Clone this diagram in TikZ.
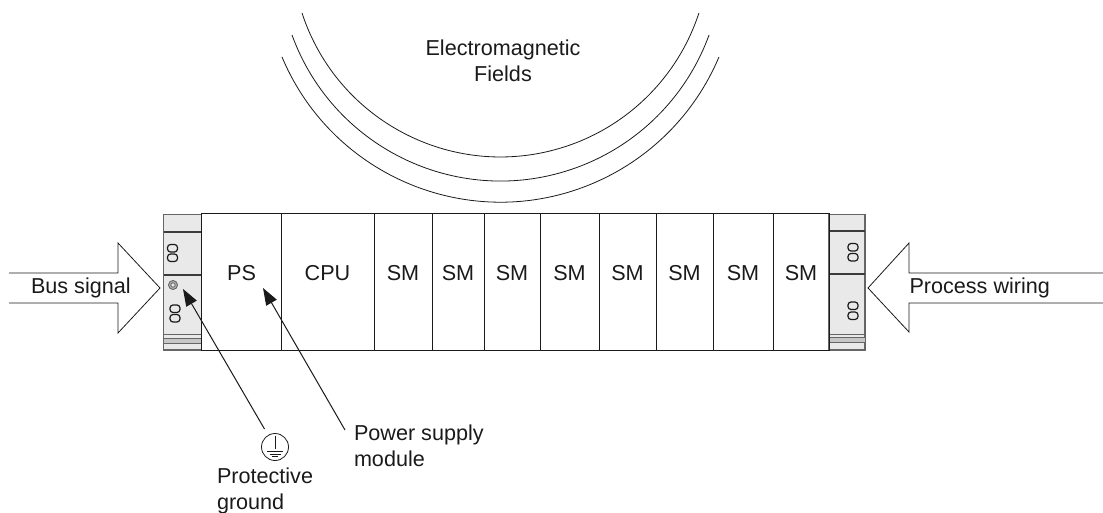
\documentclass[tikz,border=0pt]{standalone}
\usepackage{fontspec}
\setmainfont{Liberation Sans}
\usetikzlibrary{arrows.meta}
\definecolor{railfill}{HTML}{E9E9E9}
\definecolor{railedge}{HTML}{666666}
\definecolor{ink}{HTML}{1A1A1A}
\tikzset{
  lbl/.style={font=\fontsize{21.6}{26}\selectfont,text=ink,inner sep=0pt,outer sep=0pt},
  modbox/.style={draw=ink,line width=1pt,rectangle,inner sep=0pt,outer sep=0pt,minimum height=136pt,
    font=\fontsize{21.6}{26}\selectfont,text=ink,text height=15pt,text depth=19pt},
  rail/.style={draw=railedge,fill=railfill,line width=1.1pt},
  railline/.style={draw=ink!85,line width=1.2pt},
  stripe/.style={draw=railedge,line width=1pt},
  slot/.style={draw=ink,line width=1.2pt,rounded corners=3pt},
  fieldarc/.style={draw=ink,line width=0.8pt},
  blockarrow/.style={draw=ink,line width=0.8pt},
  leader/.style={draw=ink,line width=1pt,-{Triangle[length=17pt,width=12pt]}},
  gnd/.style={draw=ink,line width=0.8pt}
}
\newcommand{\slotpair}[3]{% x-left, y-top, y-bottom of pair
  \draw[slot] (#1,#2) rectangle ++(10,7.5);
  \draw[slot] (#1,#3) rectangle ++(10,-7.5);
}
\begin{document}
\begin{tikzpicture}[x=1pt,y=-1pt]
\useasboundingbox (0,0) rectangle (1103,513);
% left rail
\draw[rail] (163.5,214.5) rectangle (201.5,350);
\draw[railline] (163.5,232) -- (201.5,232);
\draw[railline] (163.5,275) -- (201.5,275);
\fill[black!22] (163.5,338) rectangle (201.5,343);
\draw[stripe] (163.5,334) -- (201.5,334);
\draw[stripe] (163.5,338) -- (201.5,338);
\draw[stripe] (163.5,343) -- (201.5,343);
\slotpair{167.5}{244.5}{261.5}
\slotpair{170}{305}{322}
\draw[draw=railedge,line width=0.9pt,fill=black!30] (173,285) circle (4.5);
\draw[draw=railedge,line width=0.8pt,fill=railfill] (173,285) circle (2.2);
% right rail
\draw[rail] (829,214.5) rectangle (865,350);
\draw[railline] (829,231) -- (865,231);
\draw[railline] (829,274) -- (865,274);
\fill[black!22] (829,337) rectangle (865,342);
\draw[stripe] (829,334) -- (865,334);
\draw[stripe] (829,337) -- (865,337);
\draw[stripe] (829,342) -- (865,342);
\slotpair{848}{243.5}{261}
\slotpair{848}{302}{319.5}
% modules
\node[modbox,minimum width=79.5pt] (ps) at (241.5,282) {PS};
\node[modbox,minimum width=93pt] (cpu) at (327.5,282) {CPU};
\node[modbox,minimum width=58pt] (sm1) at (403,282) {SM};
\node[modbox,minimum width=52pt] (sm2) at (458,282) {SM};
\node[modbox,minimum width=56pt] (sm3) at (512,282) {SM};
\node[modbox,minimum width=59pt] (sm4) at (569.5,282) {SM};
\node[modbox,minimum width=57pt] (sm5) at (627.5,282) {SM};
\node[modbox,minimum width=57pt] (sm6) at (684.5,282) {SM};
\node[modbox,minimum width=60pt] (sm7) at (743,282) {SM};
\node[modbox,minimum width=56pt] (sm8) at (801,282) {SM};
% field arcs
\draw[fieldarc] (302,13) arc[start angle=161.9,end angle=18.1,radius=208.8];
\draw[fieldarc] (292,35) arc[start angle=160,end angle=20,radius=221.9];
\draw[fieldarc] (282,57) arc[start angle=157.2,end angle=22.8,radius=237];
\node[lbl,align=center,anchor=base] (em) at (503,82) {Electromagnetic\\Fields};
% block arrows
\draw[blockarrow,line join=miter] (9,273) -- (118,273) -- (118,243) -- (160,288) -- (118,333) -- (118,303) -- (9,303);
\draw[blockarrow,line join=miter] (1103,273) -- (909,273) -- (909,243) -- (868,288) -- (909,332) -- (909,303) -- (1103,303);
\node[lbl,anchor=base west] (bus) at (31,293) {Bus signal};
\node[lbl,anchor=base west] (proc) at (909.5,293) {Process wiring};
% ground symbol
\node[gnd,circle,minimum size=27pt,inner sep=0pt] (ground) at (275,447) {};
\draw[gnd] (ground.north) ++(0,2.5) -- ++(0,13);
\draw[gnd] (ground.center) ++(-8,4.5) -- ++(16,0);
\draw[gnd] (ground.center) ++(-5.5,7) -- ++(11,0);
\draw[gnd] (ground.center) ++(-3,9.5) -- ++(6,0);
% leaders
\coordinate (gtail) at (264.5,429);
\coordinate (gtip) at (183,289);
\coordinate (ptail) at (345,430);
\coordinate (ptip) at (263,288);
\draw[leader] (gtail) -- (gtip);
\draw[leader] (ptail) -- (ptip);
\node[lbl,align=left,anchor=base west] (pwr) at (354,466) {Power supply\\module};
\node[lbl,align=left,anchor=base west] (prot) at (217,509) {Protective\\ground};
\end{tikzpicture}
\end{document}
